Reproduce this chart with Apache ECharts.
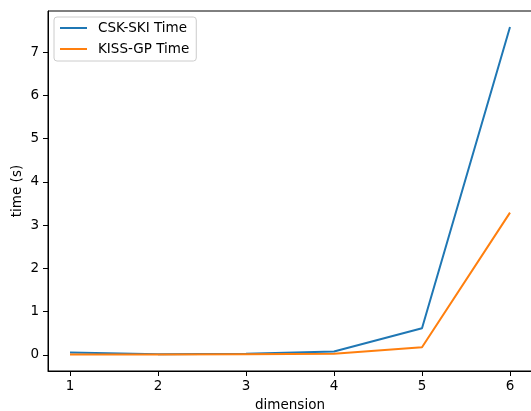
<!DOCTYPE html>
<html><head><meta charset="utf-8">
<script src="https://cdn.jsdelivr.net/npm/echarts@6/dist/echarts.min.js"></script>
<style>html,body{margin:0;padding:0;background:#fff}#c{width:531px;height:411px}</style>
</head><body><div id="c"></div>
<script>
const dimensions = [1, 2, 3, 4, 5, 6];
const cskSkiTime = [0.06, 0.02, 0.03, 0.08, 0.62, 7.58];
const kissGpTime = [0.01, 0.01, 0.02, 0.03, 0.18, 3.29];
const xTicks = [1, 2, 3, 4, 5, 6];
const yTicks = [0, 1, 2, 3, 4, 5, 6, 7];
const seriesNames = ['CSK-SKI Time', 'KISS-GP Time'];

const font = 'DejaVu Sans';
const chart = echarts.init(document.getElementById('c'), null, {renderer: 'canvas'});
chart.setOption({
  animation: false,
  textStyle: {fontFamily: font},
  grid: {left: 48, top: 11, width: 484, height: 360, outerBoundsMode: 'none', containLabel: false, show: true, borderColor: '#000', borderWidth: 1, backgroundColor: 'transparent'},
  legend: {
    left: 54, top: 17, orient: 'vertical',
    data: seriesNames,
    itemWidth: 27, itemHeight: 14, itemGap: 7,
    padding: [4, 7, 5, 5],
    itemStyle: {opacity: 0},
    backgroundColor: 'rgba(255,255,255,0.8)', borderColor: '#cccccc', borderWidth: 1, borderRadius: 3,
    textStyle: {fontFamily: font, fontSize: 13.5, color: '#000', padding: [0, 0, 0, 6]}
  },
  xAxis: {
    type: 'value', min: 0.75, max: 6.25,
    name: 'dimension', nameLocation: 'middle', nameGap: 27, nameMoveOverlap: false,
    nameTextStyle: {fontFamily: font, fontSize: 13.5, color: '#000'},
    axisLine: {onZero: false, lineStyle: {color: '#000', width: 1}},
    axisTick: {show: true, length: 5, customValues: xTicks, lineStyle: {color: '#000'}},
    axisLabel: {customValues: xTicks, margin: 8, fontFamily: font, fontSize: 13.5, color: '#000'},
    splitLine: {show: false}
  },
  yAxis: {
    type: 'value', min: -0.37, max: 7.95,
    name: 'time (s)', nameLocation: 'middle', nameGap: 24, nameRotate: 90, nameMoveOverlap: false,
    nameTextStyle: {fontFamily: font, fontSize: 13.5, color: '#000'},
    axisLine: {show: true, onZero: false, lineStyle: {color: '#000', width: 1}},
    axisTick: {show: true, length: 5, customValues: yTicks, lineStyle: {color: '#000'}},
    axisLabel: {customValues: yTicks, margin: 9, fontFamily: font, fontSize: 13.5, color: '#000'},
    splitLine: {show: false}
  },
  series: [
    {name: seriesNames[0], type: 'line', data: dimensions.map((d, i) => [d, cskSkiTime[i]]), symbol: 'none', lineStyle: {color: '#1f77b4', width: 2}, itemStyle: {color: '#1f77b4'}},
    {name: seriesNames[1], type: 'line', data: dimensions.map((d, i) => [d, kissGpTime[i]]), symbol: 'none', lineStyle: {color: '#ff7f0e', width: 2}, itemStyle: {color: '#ff7f0e'}}
  ]
});
</script></body></html>
